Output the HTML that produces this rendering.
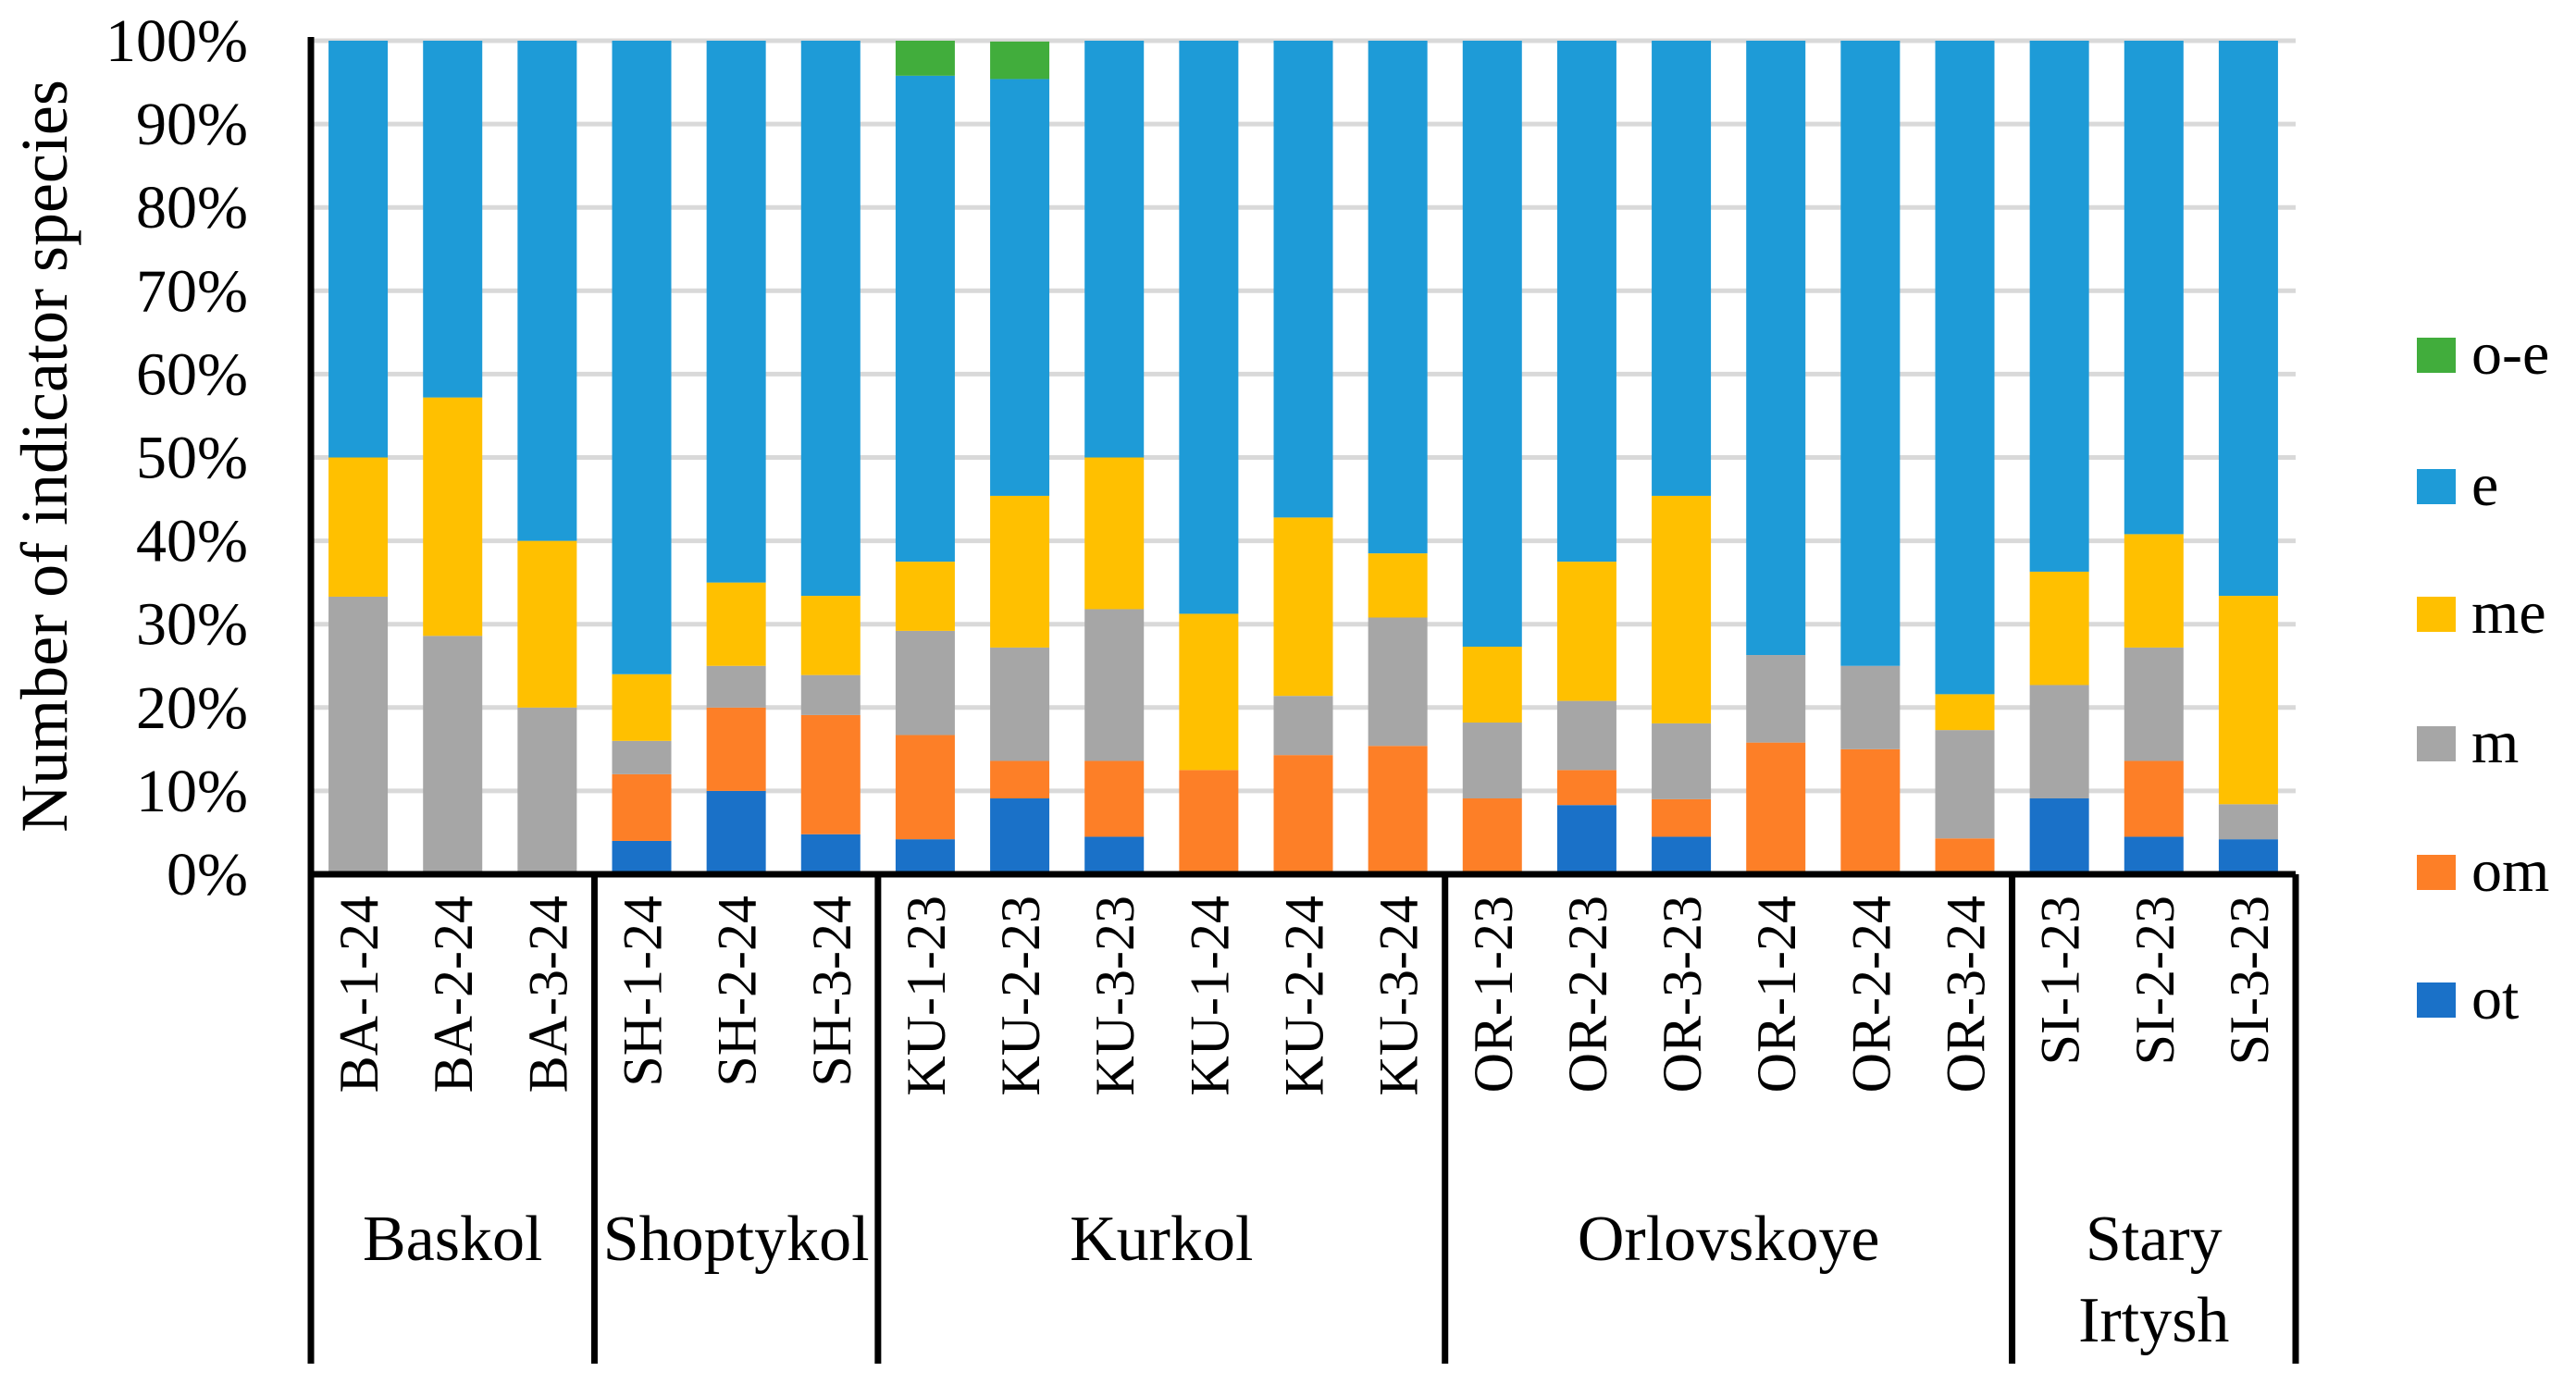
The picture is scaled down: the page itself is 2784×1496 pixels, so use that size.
<!DOCTYPE html>
<html><head><meta charset="utf-8"><style>
html,body{margin:0;padding:0;background:#fff;}
svg{display:block;font-family:"Liberation Serif",serif;}
</style></head><body>
<svg id="chart" width="2784" height="1496" viewBox="0 0 2784 1496">
<g id="grid"></g>
<g id="bars"></g>
<g id="yticks"></g>
<g id="xaxis"></g>
<g id="legend"></g>
<text transform="translate(72,493) rotate(-90)" text-anchor="middle" font-size="72">Number of indicator species</text>
</svg>
<script>
const categories=["BA-1-24","BA-2-24","BA-3-24","SH-1-24","SH-2-24","SH-3-24","KU-1-23","KU-2-23","KU-3-23","KU-1-24","KU-2-24","KU-3-24","OR-1-23","OR-2-23","OR-3-23","OR-1-24","OR-2-24","OR-3-24","SI-1-23","SI-2-23","SI-3-23"];
const seriesNames=["ot","om","m","me","e","o-e"];
const ot=[0,0,0,4,10,4.8,4.2,9.1,4.5,0,0,0,0,8.3,4.5,0,0,0,9.1,4.5,4.2];
const om=[0,0,0,8,10,14.3,12.5,4.5,9.1,12.5,14.3,15.4,9.1,4.2,4.5,15.8,15,4.3,0,9.1,0];
const m=[33.3,28.6,20,4,5,4.8,12.5,13.6,18.2,0,7.1,15.4,9.1,8.3,9.1,10.5,10,13,13.6,13.6,4.2];
const me=[16.7,28.6,20,8,10,9.5,8.3,18.2,18.2,18.75,21.4,7.7,9.1,16.7,27.3,0,0,4.3,13.6,13.6,25];
const e=[50,42.8,60,76,65,66.6,58.3,50,50,68.75,57.2,61.5,72.7,62.5,54.6,73.7,75,78.4,63.7,59.2,66.6];
const oe=[0,0,0,0,0,0,4.2,4.5,0,0,0,0,0,0,0,0,0,0,0,0,0];
const groups=["Baskol","Shoptykol","Kurkol","Orlovskoye","Stary|Irtysh"];
const groupSizes=[3,3,6,6,3];
const yTicks=[0,10,20,30,40,50,60,70,80,90,100];
const colors=["#1a71c8","#fd7f27","#a6a6a6","#ffc000","#1e9bd7","#41ad3c"];
const series=[ot,om,m,me,e,oe];
const NS="http://www.w3.org/2000/svg";
const X0=336,X1=2481,Y0=945,Y100=44,step=(X1-X0)/categories.length,bw=64;
const y=v=>Y0-(Y0-Y100)*v/100;
const xc=i=>X0+step*(i+0.5);
function mk(tag,attrs,parent){const el=document.createElementNS(NS,tag);for(const k in attrs)el.setAttribute(k,attrs[k]);parent.appendChild(el);return el;}
const grid=document.getElementById('grid'),bars=document.getElementById('bars'),yt=document.getElementById('yticks'),xa=document.getElementById('xaxis'),lg=document.getElementById('legend');
yTicks.forEach(t=>{
  const l=mk('line',{x1:X0,x2:X1,y1:y(t),y2:y(t),stroke:'#d9d9d9','stroke-width':5},grid);
  
  
  const tx=mk('text',{x:268,y:y(t)+22,'text-anchor':'end','font-size':66},yt);
  tx.textContent=t+'%';
  
  
});
categories.forEach((c,i)=>{
  let acc=0;
  series.forEach((s,k)=>{
    const v=s[i];if(v<=0)return;
    const r=mk('rect',{x:xc(i)-bw/2,y:y(acc+v),width:bw,height:y(acc)-y(acc+v),fill:colors[k]},bars);
    
    
    acc+=v;
  });
  const t=mk('text',{transform:`translate(${xc(i)+21},968) rotate(-90)`,'text-anchor':'end','font-size':60},xa);
  t.textContent=c;
  
  
});
const sw=7;
const la=mk('line',{x1:X0,x2:X0,y1:Y100-4,y2:1474,stroke:'#000','stroke-width':sw},xa);


const lb=mk('line',{x1:X0,x2:X1,y1:Y0,y2:Y0,stroke:'#000','stroke-width':sw},xa);


let gi=0;
groups.forEach((g,k)=>{
  const start=gi,end=gi+groupSizes[k];gi=end;
  const xr=X0+step*end;
  const ln=mk('line',{x1:xr,x2:xr,y1:Y0,y2:1474,stroke:'#000','stroke-width':sw},xa);
  
  
  const cx=X0+step*(start+end)/2;
  const parts=g.split('|');
  parts.forEach((p,j)=>{
    const t=mk('text',{x:cx,y:1362+j*88,'text-anchor':'middle','font-size':70},xa);
    t.textContent=p;
    
    
  });
});
const legY=[1081,943,804,664,526,384];
seriesNames.forEach((n,k)=>{
  const r=mk('rect',{x:2612,y:legY[k]-19,width:42,height:38,fill:colors[k]},lg);
  
  
  const t=mk('text',{x:2671,y:legY[k]+20,'font-size':66},lg);
  t.textContent=n;
  
  
});
</script>
</body></html>
